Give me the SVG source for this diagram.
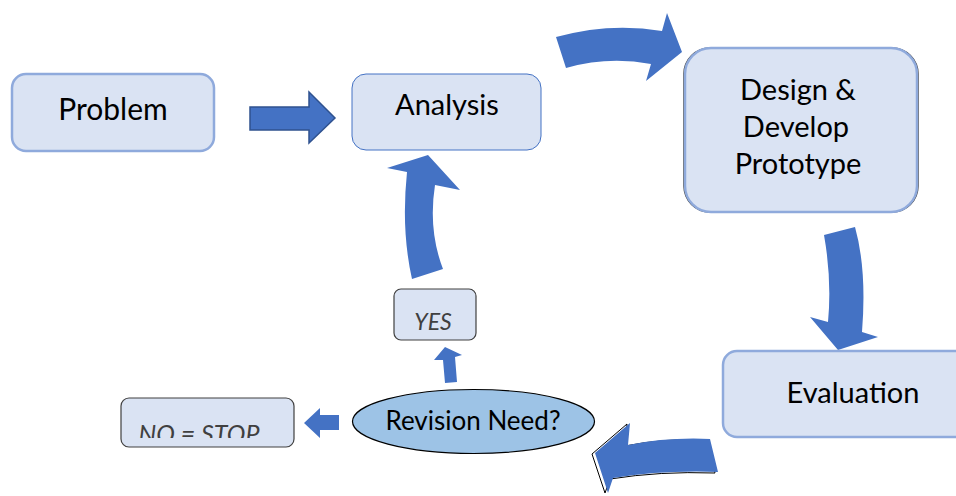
<svg xmlns="http://www.w3.org/2000/svg" width="956" height="496" viewBox="0 0 956 496">
<style>
.box{fill:#dae3f3;stroke:#8faadc;stroke-width:2.5}
.t{font-family:Lato,"Open Sans",sans-serif;fill:#000;text-anchor:middle}
.it{font-family:Lato,"Open Sans",sans-serif;font-style:italic;fill:#404040;text-anchor:middle}
.arr{fill:#4472c4}
</style>
<defs>
<clipPath id="nc"><rect x="121" y="398" width="174" height="40"/></clipPath>
</defs>
<rect width="956" height="496" fill="#fff"/>
<g id="connectors">
<path class="arr" d="M250,107 L309,107 L309,92 L335,118 L309,143 L309,130 L250,130 Z" stroke="#2f528f" stroke-width="1.5"/>
<path class="arr" d="M556,37 Q610,22 662,31 L667,13 L682,52 L646,81 L651,64 Q608,56 566,68 Z"/>
<path class="arr" d="M824,235 Q832,280 828,322 L810,317 L838,350 L878,337 L862,332 Q867,270 855,227 Z"/>
<path d="M707,440 Q665,438 625,446 L627,424 L592,454 L605,493 L610,479 Q660,471 715,473 Z" fill="#fff" stroke="#000" stroke-width="1"/>
<path class="arr" d="M710,439 Q668,437 628,445 L630,423 L595,453 L608,493 L613,478 Q663,470 718,472 Z"/>
<path class="arr" d="M412,279 Q401,230 407,172 L387,168 L428,155 L460,190 L435,185 Q428,230 443,269 Z"/>
<path class="arr" d="M445,383 L443,360 L434,360 L445,347 L462,355 L455,357 L457,382 Z"/>
<path class="arr" d="M339,415 L320,415 L320,408 L304,423 L320,438 L320,430 L339,430 Z"/>
</g>
<g id="problem">
<rect class="box" x="12" y="74" width="202" height="77" rx="14"/>
<text class="t" x="113" y="120" font-size="30">Problem</text>
</g>
<g id="analysis">
<rect x="352" y="74" width="189" height="76" rx="14" fill="#dae3f3" stroke="#4472c4" stroke-width="1"/>
<text class="t" x="447" y="115" font-size="29">Analysis</text>
</g>
<g id="design">
<rect x="685" y="48" width="234" height="164" rx="26" fill="none" stroke="#404040" stroke-width="1.5" transform="translate(-1,0)"/>
<rect class="box" x="685" y="48" width="232" height="164" rx="26"/>
<text class="t" x="798" y="100" font-size="29">Design &amp;</text>
<text class="t" x="796" y="137" font-size="29">Develop</text>
<text class="t" x="798" y="174" font-size="29">Prototype</text>
</g>
<g id="evaluation">
<rect class="box" x="723" y="351" width="250" height="86" rx="14"/>
<text class="t" x="853" y="403" font-size="29">Evaluation</text>
</g>
<g id="revision">
<ellipse cx="473.5" cy="421.5" rx="121" ry="32" fill="#9dc3e6" stroke="#000" stroke-width="1.2"/>
<text class="t" x="473" y="430" font-size="26">Revision Need?</text>
</g>
<g id="yes">
<rect x="394" y="289" width="82" height="51" rx="7" fill="#dae3f3" stroke="#404040" stroke-width="1.2"/>
<text class="it" x="433" y="330" font-size="23">YES</text>
</g>
<g id="nostop">
<rect x="121" y="398" width="173" height="49" rx="8" fill="#dae3f3" stroke="#404040" stroke-width="1.2"/>
<text class="it" x="199" y="443" font-size="25" clip-path="url(#nc)">NO = STOP</text>
</g>
</svg>
